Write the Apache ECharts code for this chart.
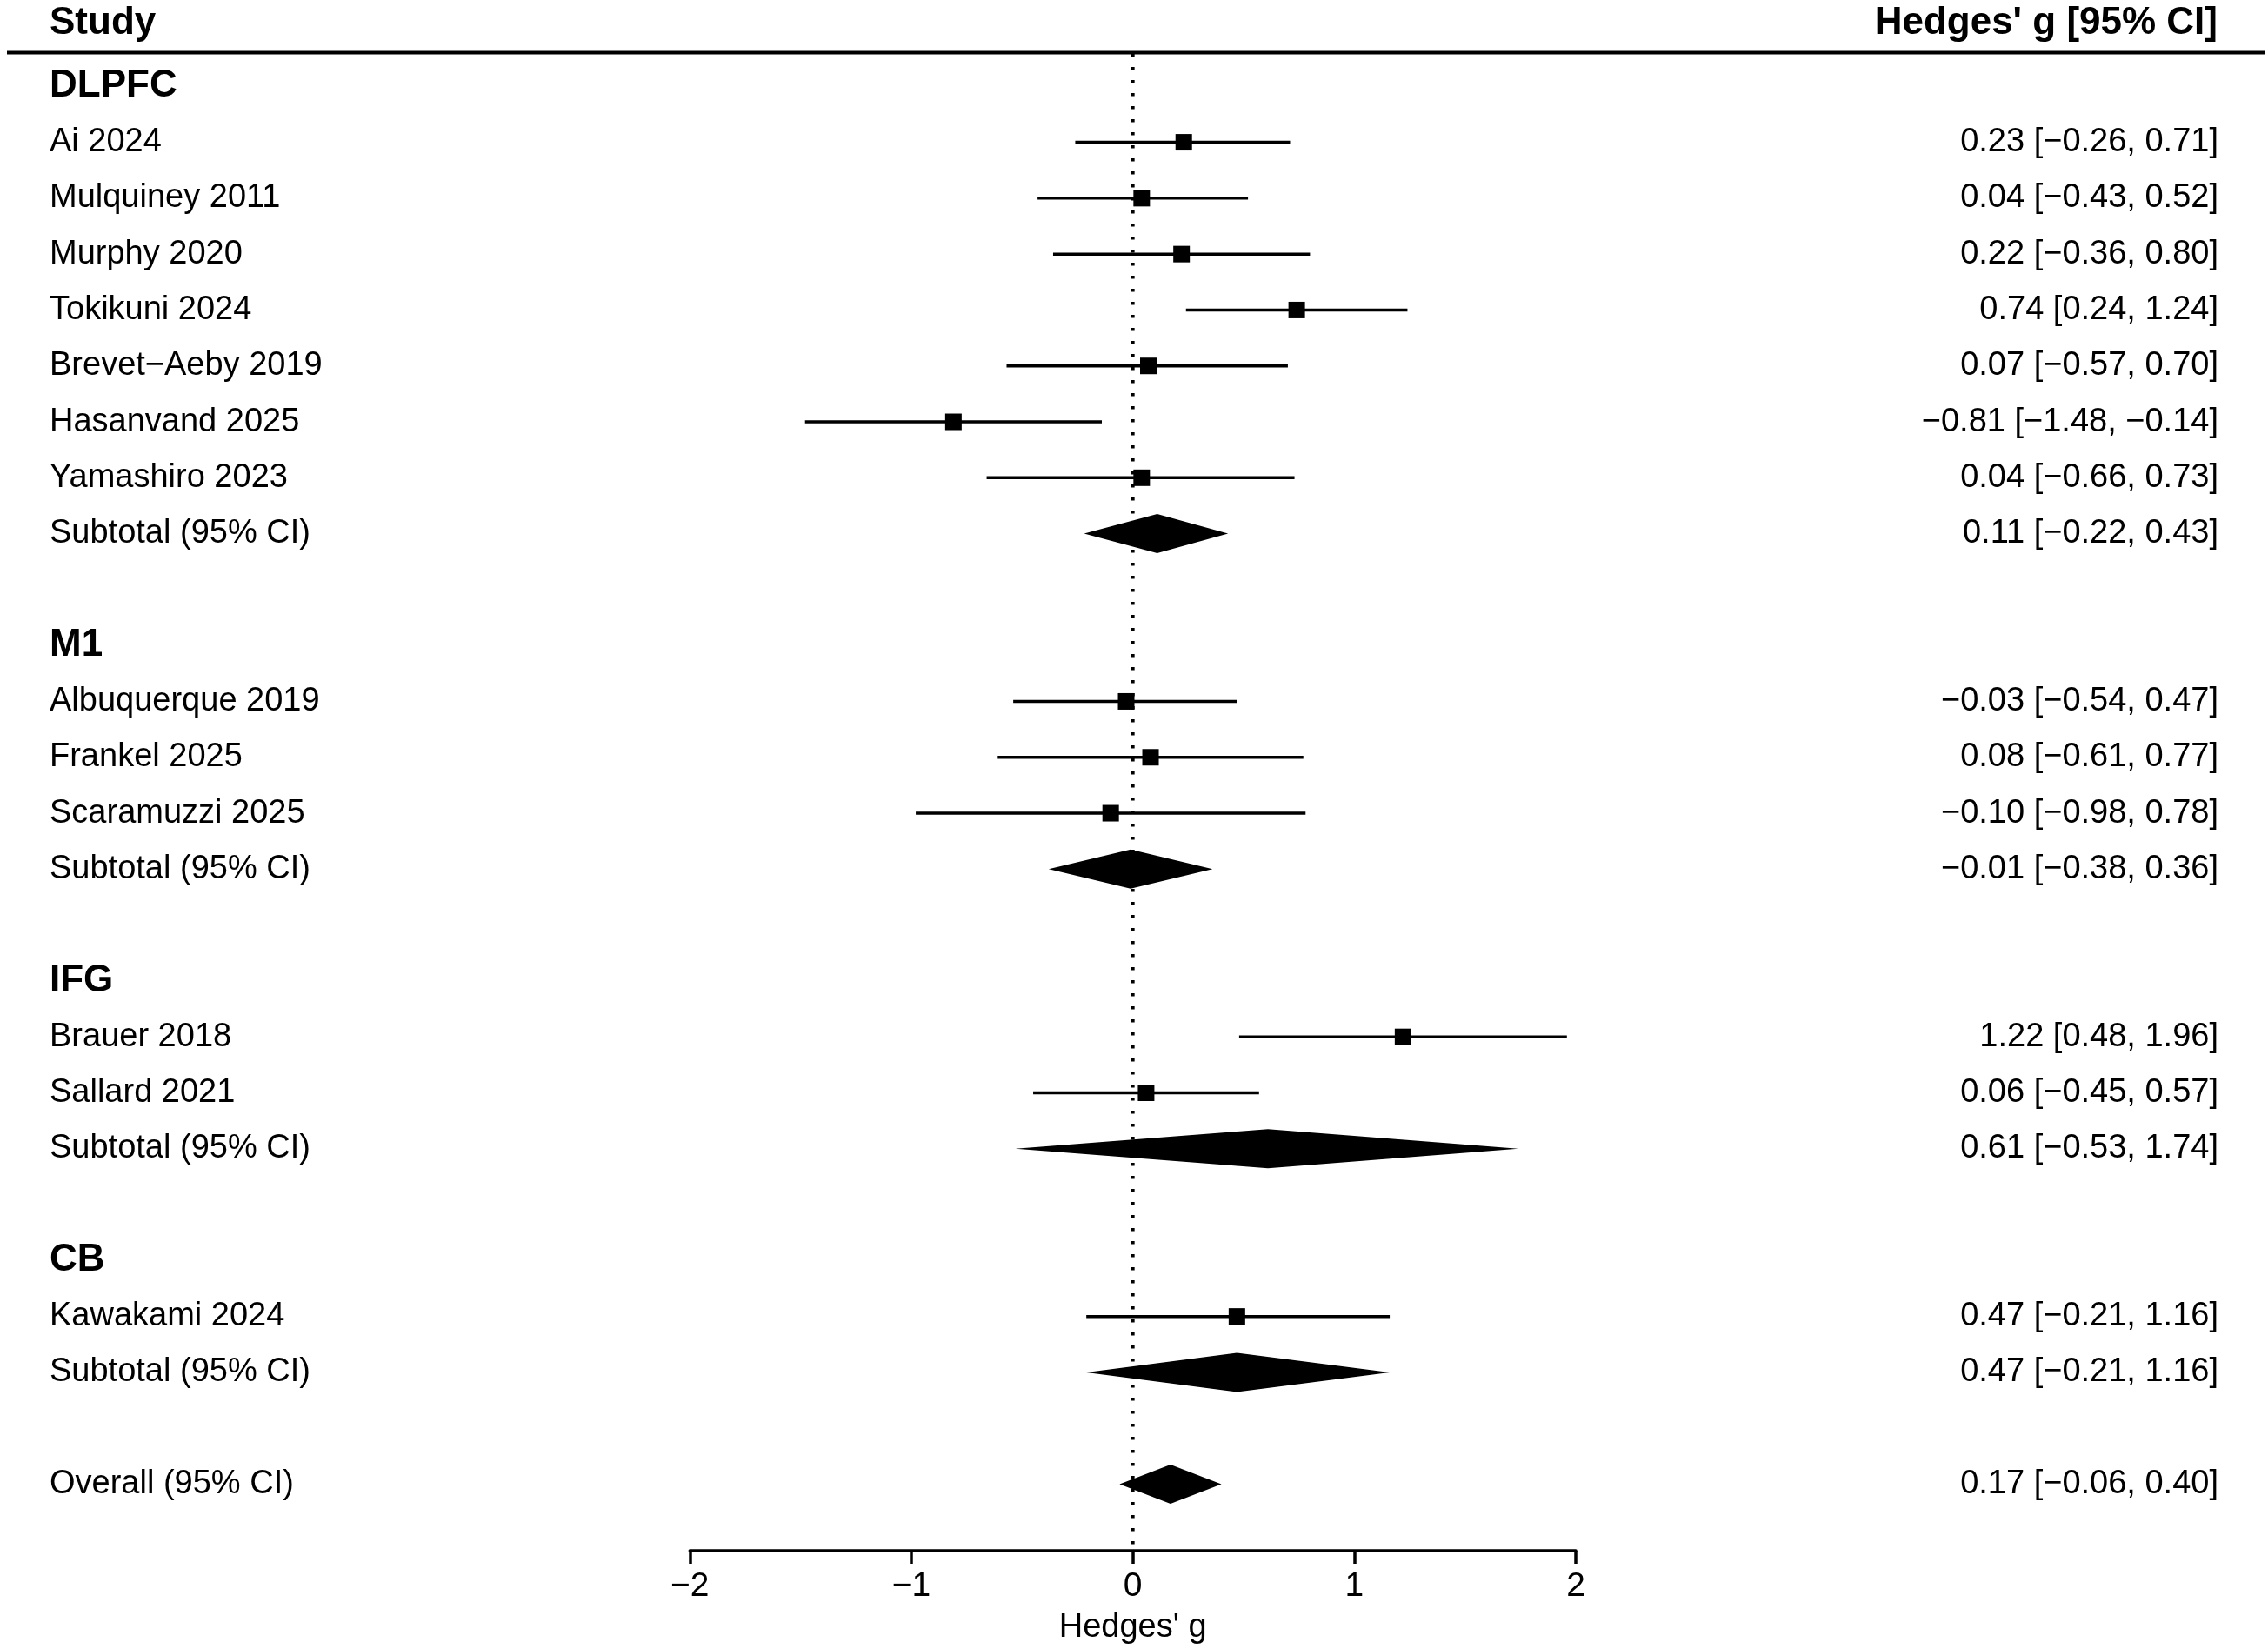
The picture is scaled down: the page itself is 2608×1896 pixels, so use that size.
<!DOCTYPE html>
<html>
<head>
<meta charset="utf-8">
<script src="https://cdn.jsdelivr.net/npm/echarts@6/dist/echarts.min.js"></script>
<style>
  html, body { margin: 0; background: #fff; }
  #chart { width: 2608px; height: 1896px; }
</style>
</head>
<body>
<div id="chart"></div>
<script>
// Study level effects (Hedges' g with 95% CI)
var studyNames = ["Ai 2024", "Mulquiney 2011", "Murphy 2020", "Tokikuni 2024", "Brevet\u2212Aeby 2019",
  "Hasanvand 2025", "Yamashiro 2023", "Albuquerque 2019", "Frankel 2025", "Scaramuzzi 2025",
  "Brauer 2018", "Sallard 2021", "Kawakami 2024"];
var studyGroup = [0, 0, 0, 0, 0, 0, 0, 1, 1, 1, 2, 2, 3];
var studyG  = [0.23, 0.04, 0.22, 0.74, 0.07, -0.81, 0.04, -0.03, 0.08, -0.10, 1.22, 0.06, 0.47];
var studyLo = [-0.26, -0.43, -0.36, 0.24, -0.57, -1.48, -0.66, -0.54, -0.61, -0.98, 0.48, -0.45, -0.21];
var studyHi = [0.71, 0.52, 0.80, 1.24, 0.70, -0.14, 0.73, 0.47, 0.77, 0.78, 1.96, 0.57, 1.16];

// subgroup pooled estimates
var groupNames = ["DLPFC", "M1", "IFG", "CB"];
var subtotalG  = [0.11, -0.01, 0.61, 0.47];
var subtotalLo = [-0.22, -0.38, -0.53, -0.21];
var subtotalHi = [0.43, 0.36, 1.74, 1.16];

// overall pooled estimate
var overallG = 0.17, overallLo = -0.06, overallHi = 0.40;

var xTicks = [-2, -1, 0, 1, 2];

var FONT = "'Liberation Sans', Arial, Helvetica, sans-serif";
var Y_TOP = -0.58, Y_BOTTOM = 26.19;

function fmt(v) { return v.toFixed(2).replace("-", "\u2212"); }
function ciText(g, lo, hi) { return fmt(g) + " [" + fmt(lo) + ", " + fmt(hi) + "]"; }

// build the row layout: header, studies, subtotal, blank ... overall
var textRows = [];   // {row, left, right, bold}
var studyData = [];  // [g, lo, hi, row]
var diamondData = [];
var row = 0;
groupNames.forEach(function (name, gi) {
  textRows.push({ row: row, left: name, right: "", bold: true });
  row++;
  studyNames.forEach(function (s, i) {
    if (studyGroup[i] !== gi) return;
    studyData.push([studyG[i], studyLo[i], studyHi[i], row]);
    textRows.push({ row: row, left: s, right: ciText(studyG[i], studyLo[i], studyHi[i]), bold: false });
    row++;
  });
  diamondData.push([subtotalG[gi], subtotalLo[gi], subtotalHi[gi], row]);
  textRows.push({ row: row, left: "Subtotal (95% CI)", right: ciText(subtotalG[gi], subtotalLo[gi], subtotalHi[gi]), bold: false });
  row += 2;
});
diamondData.push([overallG, overallLo, overallHi, row]);
textRows.push({ row: row, left: "Overall (95% CI)", right: ciText(overallG, overallLo, overallHi), bold: false });

var chart = echarts.init(document.getElementById("chart"));

var option = {
  animation: false,
  backgroundColor: "#fff",
  grid: { left: 793.3, right: 796, top: 62, bottom: 110.3 },
  xAxis: {
    type: "value",
    min: xTicks[0],
    max: xTicks[xTicks.length - 1],
    interval: 1,
    name: "Hedges' g",
    nameLocation: "middle",
    nameGap: 70,
    nameTextStyle: { fontSize: 38, fontFamily: FONT, color: "#000" },
    axisLine: { show: true, onZero: false, lineStyle: { color: "#000", width: 3.5 } },
    axisTick: { show: true, length: 15, lineStyle: { color: "#000", width: 3.5 } },
    axisLabel: {
      fontSize: 39, fontFamily: FONT, color: "#000", margin: 22,
      formatter: function (v) { return String(v).replace("-", "\u2212"); }
    },
    splitLine: { show: false }
  },
  yAxis: {
    type: "value",
    inverse: true,
    min: Y_TOP,
    max: Y_BOTTOM,
    show: false
  },
  graphic: [
    { type: "line", shape: { x1: 8, y1: 60.5, x2: 2605, y2: 60.5 }, style: { stroke: "#000", lineWidth: 4 } },
    { type: "text", left: 57, top: 5, style: { text: "Study", font: "bold 44px " + FONT, fill: "#000" } },
    { type: "text", right: 2608 - 2550, top: 5, style: { text: "Hedges' g [95% CI]", font: "bold 44px " + FONT, fill: "#000" } }
  ],
  series: [
    {
      // reference line at zero
      type: "line",
      data: [[0, Y_TOP], [0, Y_BOTTOM]],
      showSymbol: false,
      symbol: "none",
      silent: true,
      lineStyle: { color: "#000", width: 4, type: [3.5, 11.5] },
      z: 1
    },
    {
      type: "custom",
      name: "Studies",
      data: studyData,
      encode: { x: [0, 1, 2], y: 3 },
      renderItem: function (params, api) {
        var r = api.value(3);
        var lo = api.coord([api.value(1), r]);
        var hi = api.coord([api.value(2), r]);
        var c = api.coord([api.value(0), r]);
        var s = 19;
        return {
          type: "group",
          children: [
            { type: "line", shape: { x1: lo[0], y1: lo[1], x2: hi[0], y2: hi[1] }, style: { stroke: "#000", lineWidth: 3.5 } },
            { type: "rect", shape: { x: c[0] - s / 2, y: c[1] - s / 2, width: s, height: s }, style: { fill: "#000" } }
          ]
        };
      },
      z: 3
    },
    {
      type: "custom",
      name: "Pooled",
      data: diamondData,
      encode: { x: [0, 1, 2], y: 3 },
      renderItem: function (params, api) {
        var r = api.value(3);
        var lo = api.coord([api.value(1), r]);
        var hi = api.coord([api.value(2), r]);
        var c = api.coord([api.value(0), r]);
        var h = 22.5;
        return {
          type: "polygon",
          shape: { points: [[lo[0], lo[1]], [c[0], c[1] - h], [hi[0], hi[1]], [c[0], c[1] + h]] },
          style: { fill: "#000" }
        };
      },
      z: 3
    },
    {
      type: "custom",
      name: "Text",
      data: textRows.map(function (t) { return [0, t.row]; }),
      encode: { x: 0, y: 1 },
      renderItem: function (params, api) {
        var t = textRows[params.dataIndex];
        var y = api.coord([0, api.value(1)])[1];
        var kids = [{
          type: "text",
          style: {
            text: t.left, x: 57, y: y,
            font: (t.bold ? "bold 44px " : "38px ") + FONT,
            fill: "#000", align: "left", verticalAlign: "middle"
          }
        }];
        if (t.right) {
          kids.push({
            type: "text",
            style: {
              text: t.right, x: 2551, y: y,
              font: "38px " + FONT,
              fill: "#000", align: "right", verticalAlign: "middle"
            }
          });
        }
        return { type: "group", children: kids };
      },
      z: 4
    }
  ]
};

chart.setOption(option);
</script>
</body>
</html>
